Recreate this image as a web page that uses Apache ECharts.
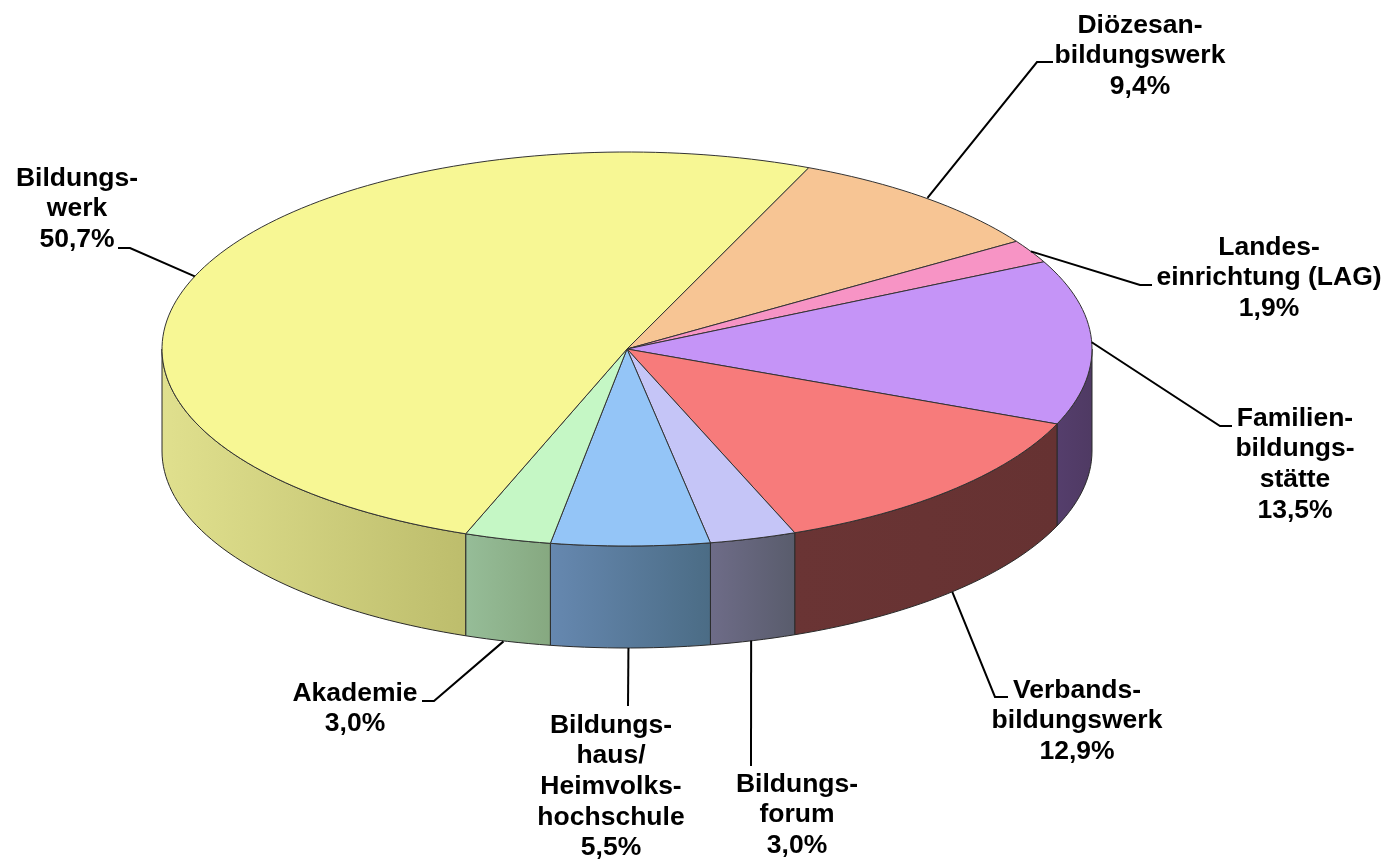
<!DOCTYPE html>
<html>
<head>
<meta charset="utf-8">
<title>Bildungseinrichtungen</title>
<script src="https://cdn.jsdelivr.net/npm/echarts@6/dist/echarts.min.js"></script>
<style>
  html, body { margin: 0; padding: 0; background: #fff; }
  #chart { width: 1390px; height: 863px; }
</style>
</head>
<body>
<div id="chart"></div>
<script>
// clockwise from the top-right boundary of the big slice
const categories = [
  'Diözesan-\nbildungswerk',
  'Landes-\neinrichtung (LAG)',
  'Familien-\nbildungs-\nstätte',
  'Verbands-\nbildungswerk',
  'Bildungs-\nforum',
  'Bildungs-\nhaus/\nHeimvolks-\nhochschule',
  'Akademie',
  'Bildungs-\nwerk'
];
const shares = [9.4, 1.9, 13.5, 12.9, 3.0, 5.5, 3.0, 50.7];

const topColors = ['#F7C594', '#F794C5', '#C594F7', '#F77B7B', '#C5C5F7', '#94C5F7', '#C5F7C5', '#F7F794'];
const wallColors = [
  ['#7B6345', '#7B6345'],
  ['#7B4A63', '#7B4A63'],
  ['#553E6C', '#4F3A63'],
  ['#6A3434', '#663232'],
  ['#6E6C88', '#595C6C'],
  ['#6688B0', '#4B6C85'],
  ['#96BD98', '#86A880'],
  ['#E0E08E', '#BDBD6C']
];

// label centre (first line's middle) and the bent leader line after the pie edge
const labelLayout = [
  { x: 1140, y: 25, nudge: 2, bend: [[1037, 62], [1053, 62]] },
  { x: 1269, y: 247, nudge: 0, bend: [[1140, 285], [1152, 285]] },
  { x: 1295, y: 418, nudge: 0, bend: [[1220, 426], [1232, 426]] },
  { x: 1077, y: 690, nudge: 0, bend: [[995, 697], [1008, 697]] },
  { x: 797, y: 784, nudge: -2, bend: [[751, 766]] },
  { x: 611, y: 725, nudge: -2, bend: [[628, 706]] },
  { x: 355, y: 693, nudge: -4, bend: [[434, 701], [422, 701]] },
  { x: 77, y: 178, nudge: 0, bend: [[130, 248], [118, 248]] }
];

const CX = 627, CY = 349, RX = 465, RY = 197, DEPTH = 102;
const START_ANGLE = 23;
const FONT = 'Liberation Sans, Arial, sans-serif';

const total = shares.reduce((a, b) => a + b, 0);

function ringPoint(deg, drop) {
  const r = deg * Math.PI / 180;
  return [CX + RX * Math.sin(r), CY - RY * Math.cos(r) + (drop || 0)];
}

function arcPoints(from, to, drop) {
  const pts = [];
  const steps = Math.max(2, Math.ceil((to - from) / 1.5));
  for (let i = 0; i <= steps; i++) {
    pts.push(ringPoint(from + (to - from) * i / steps, drop));
  }
  return pts;
}

function sliceRange(idx) {
  let from = START_ANGLE;
  for (let i = 0; i < idx; i++) from += shares[i] / total * 360;
  return [from, from + shares[idx] / total * 360];
}

// part of the slice that shows on the front wall
function wallRange(from, to) {
  const a = Math.max(from, 90), b = Math.min(to, 270);
  return b > a ? [a, b] : null;
}

function renderSlice(params, api) {
  const idx = api.value(0);
  const [from, to] = sliceRange(idx);
  const children = [];

  const wall = wallRange(from, to);
  if (wall) {
    const upper = arcPoints(wall[0], wall[1], 0);
    const lower = arcPoints(wall[0], wall[1], DEPTH).reverse();
    children.push({
      type: 'polygon',
      shape: { points: upper.concat(lower) },
      style: {
        fill: new echarts.graphic.LinearGradient(0, 0, 1, 0, [
          { offset: 0, color: wallColors[idx][0] },
          { offset: 1, color: wallColors[idx][1] }
        ]),
        stroke: '#2a2a2a',
        lineWidth: 1
      }
    });
  }

  children.push({
    type: 'polygon',
    shape: { points: [[CX, CY]].concat(arcPoints(from, to, 0)) },
    style: { fill: topColors[idx], stroke: '#333', lineWidth: 1, lineJoin: 'round' }
  });

  // leader line starts on the outer edge at the slice's middle angle
  const mid = (from + to) / 2;
  const norm = mid % 360;
  const drop = norm > 100 && norm < 260 ? DEPTH : 0;
  const edge = ringPoint(mid, drop);
  edge[0] += labelLayout[idx].nudge;
  children.push({
    type: 'polyline',
    z2: 5,
    shape: { points: [edge].concat(labelLayout[idx].bend) },
    style: { fill: 'none', stroke: '#000', lineWidth: 2 }
  });

  children.push({
    type: 'text',
    z2: 6,
    x: labelLayout[idx].x,
    y: labelLayout[idx].y - 15,
    style: {
      text: categories[idx] + '\n' + shares[idx].toFixed(1).replace('.', ',') + '%',
      fill: '#000',
      font: 'bold 26.5px ' + FONT,
      lineHeight: 30.7,
      align: 'center',
      verticalAlign: 'top'
    }
  });

  return { type: 'group', children };
}

const chart = echarts.init(document.getElementById('chart'), null, { renderer: 'canvas' });

chart.setOption({
  backgroundColor: '#fff',
  animation: false,
  series: [{
    type: 'custom',
    coordinateSystem: 'none',
    silent: true,
    renderItem: renderSlice,
    encode: { value: 1 },
    data: shares.map((v, i) => [i, v])
  }]
});

window.addEventListener('resize', chart.resize);
</script>
</body>
</html>
